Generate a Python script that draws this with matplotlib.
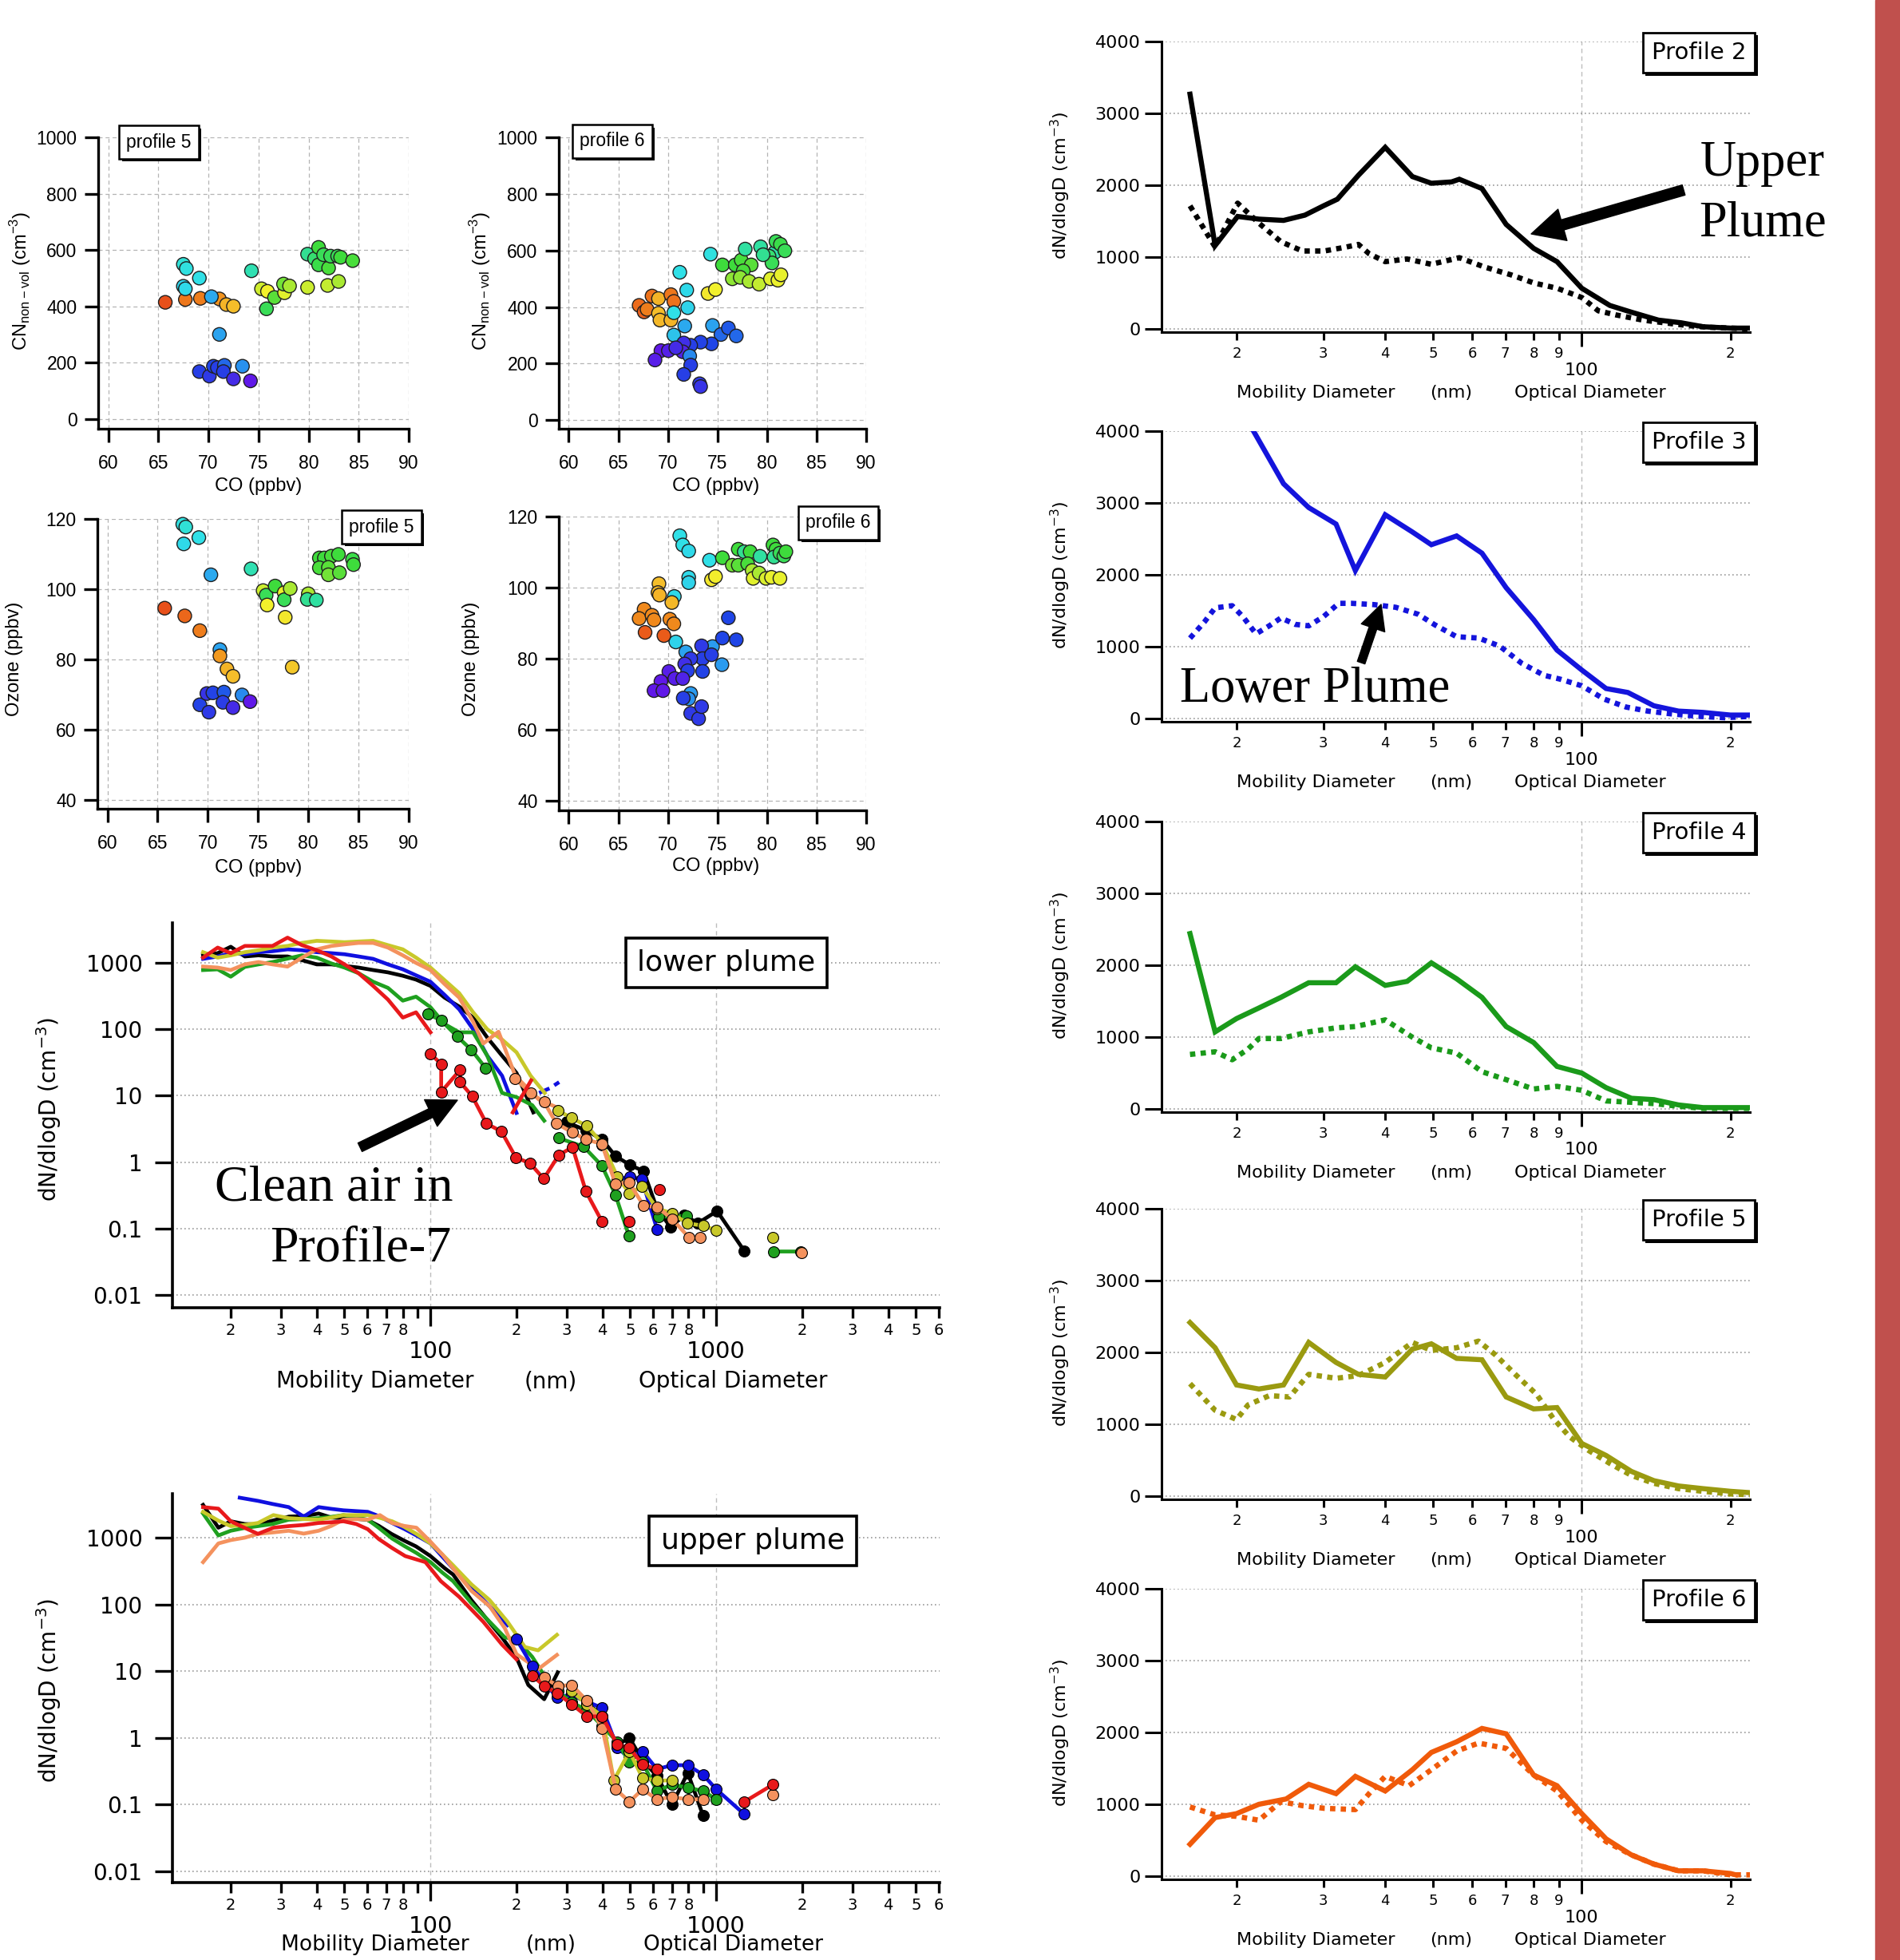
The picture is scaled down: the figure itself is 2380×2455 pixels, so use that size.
import numpy as np
import matplotlib
matplotlib.use('Agg')
import matplotlib.pyplot as plt
import matplotlib.ticker as mticker
import matplotlib.patheffects as pe
from matplotlib.colors import LinearSegmentedColormap
from matplotlib.patches import Rectangle

plt.rcParams['font.family'] = ['DejaVu Sans']

W, H = 2380, 2455

# ---------------- scatter data: CO (ppbv), value, colour index (0 orange .. 1 violet)
p5_cn_co = [65.7, 67.7, 69.2, 71.1, 71.8, 72.5,
            67.5, 67.8, 69.1, 67.5, 67.7, 70.3, 74.3,
            71.1, 69.1, 70.1, 70.5, 70.9, 71.6, 71.5, 72.5, 73.4, 74.2,
            75.3, 75.9, 75.8, 76.6, 77.6, 77.5, 78.1, 79.9, 81.9, 83.0,
            79.9, 80.6, 81.0, 81.0, 81.5, 82.0, 82.2, 82.9, 83.2, 84.4]
p5_cn = [414, 424, 428, 426, 406, 400,
         549, 534, 500, 471, 462, 434, 526,
         300, 168, 152, 187, 182, 190, 168, 142, 187, 135,
         462, 453, 391, 431, 448, 479, 472, 467, 474, 488,
         585, 569, 609, 547, 583, 536, 578, 578, 574, 562]
p5_cn_c = [0.0, 0.07, 0.08, 0.12, 0.18, 0.2,
           0.62, 0.63, 0.64, 0.66, 0.65, 0.72, 0.58,
           0.73, 0.86, 0.88, 0.84, 0.86, 0.8, 0.86, 0.93, 0.75, 1.0,
           0.36, 0.3, 0.5, 0.46, 0.33, 0.44, 0.4, 0.37, 0.38, 0.4,
           0.55, 0.52, 0.48, 0.49, 0.5, 0.47, 0.5, 0.5, 0.48, 0.47]

p5_o3_co = [71.2,
            65.7, 67.7, 69.2, 71.2, 71.9, 72.5,
            67.5, 67.8, 69.1, 67.6, 70.3, 74.3,
            69.2, 70.1, 69.9, 70.5, 71.6, 71.5, 72.5, 73.4, 74.2,
            75.5, 75.8, 75.9, 76.7, 77.6, 77.6, 78.2, 77.7, 78.4, 80.0, 79.9, 80.8,
            81.1, 81.6, 82.3, 83.0, 81.1, 82.0, 82.0, 83.1, 84.4, 84.5]
p5_o3 = [82.8,
         94.6, 92.4, 88.2, 81.0, 77.3, 75.2,
         118.5, 117.7, 114.7, 112.9, 104.1, 105.8,
         67.1, 65.0, 70.3, 70.5, 70.7, 67.8, 66.3, 69.9, 68.0,
         99.6, 98.3, 95.5, 100.9, 99.0, 97.0, 100.2, 92.0, 77.8, 98.7, 97.1, 96.9,
         108.9, 108.9, 109.4, 109.9, 106.1, 106.2, 104.1, 104.7, 108.5, 107.0]
p5_o3_c = [0.73,
           0.0, 0.04, 0.08, 0.13, 0.18, 0.2,
           0.63, 0.62, 0.64, 0.65, 0.72, 0.58,
           0.85, 0.88, 0.9, 0.85, 0.82, 0.87, 0.93, 0.76, 1.0,
           0.37, 0.5, 0.3, 0.48, 0.31, 0.5, 0.4, 0.28, 0.22, 0.4, 0.55, 0.56,
           0.48, 0.48, 0.47, 0.48, 0.47, 0.46, 0.44, 0.46, 0.49, 0.48]

p6_cn_co = [67.1, 67.6, 68.4, 67.9, 69.05, 69.05, 69.2, 70.3, 70.3, 70.6,
            71.2, 71.9, 72.0, 70.6, 71.7, 70.6, 74.3, 74.5,
            75.35, 76.1, 76.9, 74.4, 73.3, 72.3, 71.6, 71.5, 69.3, 68.7, 70.05, 70.8,
            72.2, 72.3, 71.6, 73.2, 73.3,
            74.05, 74.8, 75.5, 76.8, 77.4, 78.4, 77.6, 76.5, 77.3, 78.2, 79.2, 80.35,
            81.1, 81.4, 77.8, 79.35, 80.8, 80.9, 81.35, 81.8, 80.2, 80.5, 79.6]
p6_cn = [406, 383, 439, 392, 430, 378, 354, 354, 444, 420,
         523, 460, 398, 380, 333, 301, 587, 335,
         303, 326, 298, 270, 276, 265, 273, 242, 246, 213, 246, 256,
         227, 195, 162, 129, 119,
         448, 462, 549, 549, 566, 549, 528, 500, 505, 491, 481, 500,
         495, 514, 605, 613, 594, 632, 622, 599, 580, 556, 585]
p6_cn_c = [0.05, 0.03, 0.06, 0.08, 0.18, 0.2, 0.19, 0.18, 0.07, 0.06,
           0.64, 0.65, 0.66, 0.64, 0.72, 0.68, 0.63, 0.73,
           0.8, 0.82, 0.8, 0.84, 0.85, 0.86, 0.92, 0.96, 1.0, 0.98, 0.97, 0.93,
           0.76, 0.86, 0.86, 0.88, 0.9,
           0.28, 0.3, 0.48, 0.48, 0.47, 0.46, 0.47, 0.42, 0.42, 0.4, 0.38, 0.33,
           0.31, 0.32, 0.56, 0.56, 0.57, 0.5, 0.49, 0.5, 0.52, 0.5, 0.55]

p6_o3_co = [71.2, 71.5, 72.1, 74.2, 72.1, 72.1, 70.65, 70.8, 71.8, 74.5, 75.45, 72.3, 72.1,
            69.1, 69.0, 69.15, 70.4, 67.6, 67.1, 68.4, 68.6, 70.2, 70.6, 67.7, 69.6,
            76.1, 75.5, 76.9, 73.4, 73.5, 74.4, 72.3, 71.7, 72.0, 73.5, 70.1, 70.7,
            71.5, 69.3, 68.6, 69.5, 71.55, 72.3, 73.1, 73.4,
            74.4, 74.8, 75.5, 76.5, 77.1, 77.1, 77.7, 78.3, 78.05, 78.5, 78.6, 79.2,
            79.9, 80.45, 81.3, 79.3, 80.6, 80.9, 80.7, 81.3, 81.7, 81.9]
p6_o3 = [114.6, 112.0, 110.3, 107.7, 102.9, 101.4, 97.5, 84.7, 81.9, 83.4, 78.3, 70.2, 68.7,
         101.1, 98.6, 97.9, 95.8, 93.9, 91.3, 92.2, 90.9, 91.1, 89.8, 87.4, 86.5,
         91.5, 85.8, 85.3, 83.6, 80.0, 81.1, 80.0, 78.5, 76.6, 76.4, 76.4, 74.4,
         74.4, 73.6, 71.0, 71.0, 68.9, 64.6, 63.1, 66.5,
         102.2, 103.1, 108.4, 106.3, 106.3, 110.8, 110.1, 110.1, 106.7, 104.8, 102.6, 104.1,
         102.6, 102.9, 102.6, 108.8, 112.0, 110.8, 108.6, 109.7, 108.9, 110.1]
p6_o3_c = [0.64, 0.64, 0.65, 0.64, 0.65, 0.66, 0.65, 0.66, 0.73, 0.74, 0.74, 0.74, 0.75,
           0.2, 0.19, 0.18, 0.19, 0.1, 0.1, 0.1, 0.1, 0.1, 0.1, 0.02, 0.02,
           0.84, 0.84, 0.84, 0.88, 0.86, 0.86, 0.88, 0.92, 0.86, 0.85, 0.98, 0.98,
           0.96, 1.0, 1.0, 1.0, 0.86, 0.88, 0.88, 0.88,
           0.28, 0.29, 0.48, 0.44, 0.46, 0.48, 0.55, 0.48, 0.47, 0.4, 0.33, 0.4,
           0.34, 0.32, 0.32, 0.56, 0.48, 0.48, 0.55, 0.5, 0.5, 0.48]

# ---------------- size distributions, lower plume (SMPS lines, OPC lines+markers)
nan = np.nan
lo_black_sx = [16, 18, 20, 22.4, 25, 28, 31.6, 35.5, 40, 45, 50, 56, 63, 71, 80, 89, 100, 112, 126, 141, 158, 178, 200, 229]
lo_black_sy = [1300, 1400, 1750, 1250, 1300, 1250, 1250, 1100, 950, 950, 900, 850, 780, 720, 640, 560, 450, 300, 220, 150, 75, 40, 22, 5.6]
lo_black_ox = [300, 350, 398, 444, 500, 557, 620, 692, 773, 862, 1007, 1253]
lo_black_oy = [4.0, 3.0, 2.2, 1.23, 0.9, 0.73, 0.2, 0.105, 0.158, 0.12, 0.183, 0.046]

lo_blue_sx = [16, 18, 20, 22.4, 25, 28, 31.6, 35.5, 40, 45, 50, 56, 63, 71, 80, 89, 100, 112, 126, 141, 158, 178, 200]
lo_blue_sy = [1150, 1250, 1400, 1350, 1450, 1500, 1600, 1550, 1450, 1400, 1350, 1250, 1150, 950, 800, 650, 520, 330, 200, 100, 40, 20, 5.5]
lo_blue2_x = [240, 262, 282]
lo_blue2_y = [11, 13, 16]
lo_blue_ox = [398, 451, 500, 549, 621]
lo_blue_oy = [1.8, 0.55, 0.6, 0.55, 0.097]

lo_green_sx = [16, 18, 20, 22.4, 25, 28, 31.6, 35.5, 40, 45, 50, 56, 63, 71, 80, 89, 100, 112, 126, 141, 158, 178, 200, 227, 250]
lo_green_sy = [780, 800, 620, 870, 950, 1030, 1160, 1300, 1200, 980, 850, 700, 520, 420, 270, 310, 215, 120, 90, 90, 40, 11, 9.5, 7.2, 4.2]
lo_green_ox = [98, 109, 124, 139, 156, nan, 281, 344, 398, 444, 495, nan, 630, 787, nan, 1587, 1975]
lo_green_oy = [170, 136, 78, 49, 26, nan, 2.3, 1.7, 0.88, 0.32, 0.077, nan, 0.15, 0.155, nan, 0.045, 0.045]

lo_yellow_sx = [16, 18, 20, 22.4, 25, 28, 31.6, 35.5, 40, 45, 50, 56, 63, 71, 80, 89, 100, 112, 126, 141, 158, 178, 200, 224, 251]
lo_yellow_sy = [1450, 1200, 1300, 1450, 1550, 1700, 1800, 2000, 2150, 2100, 2050, 2100, 2150, 1850, 1600, 1200, 850, 550, 350, 180, 100, 70, 45, 20, 11]
lo_yellow_ox = [279, 312, 353, 399, 451, 497, 549, 620, 700, 790, 900, 1000, nan, 1580]
lo_yellow_oy = [6.0, 4.6, 3.5, 1.9, 0.6, 0.34, 0.43, 0.2, 0.17, 0.12, 0.11, 0.094, nan, 0.073]

lo_salmon_sx = [16, 18, 20, 22.4, 25, 28, 31.6, 35.5, 40, 45, 50, 56, 63, 71, 80, 89, 100, 112, 126, 141, 153, 173, 198, 239, 276]
lo_salmon_sy = [880, 850, 780, 950, 1030, 950, 880, 1200, 1600, 1800, 1900, 2000, 2000, 1700, 1300, 1000, 780, 480, 300, 130, 61, 92, 20, 8.8, 6.7]
lo_salmon_ox = [198, 224, 250, 276, 314, 350, 398, 444, 496, 557, 621, 700, 803, 880, nan, 1987]
lo_salmon_oy = [18, 11, 8, 3.8, 2.8, 2.2, 1.87, 0.47, 0.49, 0.22, 0.21, 0.14, 0.073, 0.073, nan, 0.043]

lo_red_sx = [16, 18, 20, 22.4, 25, 28, 31.6, 35.5, 40, 45, 50, 56, 63, 71, 80, 89, 100]
lo_red_sy = [1200, 1700, 1400, 1800, 1800, 1800, 2400, 1850, 1550, 1250, 950, 700, 450, 280, 150, 180, 90]
lo_red_ox = [100, 109, 109, 127, 127, 140, 157, 177, 199, 223, 249, 281, 314, 350, 398, nan, 495, nan, 634]
lo_red_oy = [42.7, 30, 11.4, 24.5, 16, 9.8, 3.8, 2.9, 1.17, 0.96, 0.56, 1.27, 1.68, 0.36, 0.128, nan, 0.128, nan, 0.39]
lo_red2_x = [194, 225]
lo_red2_y = [5.6, 17]

# ---------------- size distributions, upper plume
up_black_sx = [16, 18.1, 20, 22.4, 25, 28, 32, 36, 40.6, 45, 50, 56, 60, 66, 73, 81, 89, 100, 112, 120, 139, 157, 178, 200, 220, 250, 279]
up_black_sy = [3100, 1410, 1760, 1600, 1580, 1800, 2070, 2100, 2300, 2000, 1960, 1900, 1860, 1500, 1140, 900, 740, 530, 350, 280, 116, 61, 32, 16, 6.2, 3.8, 9.6]
up_black_ox = [312, 353, 399, 451, 497, 552, 620, 700, 795, 900]
up_black_oy = [4.5, 3.4, 2.1, 0.79, 1.0, 0.46, 0.27, 0.1, 0.30, 0.068]

up_blue_sx = [21.5, 24.9, 28, 31.9, 36, 40.6, 45, 49.6, 55, 60.3, 66, 73.4, 81, 89.3, 100, 110, 120, 139, 161, 186]
up_blue_sy = [3970, 3560, 3200, 2870, 2070, 2870, 2700, 2570, 2500, 2440, 2100, 1660, 1350, 1080, 820, 520, 345, 180, 94, 49]
up_blue_ox = [200, 227, 250, 277, 312, 353, 399, 451, 497, 552, 620, 700, 795, 900, 1000, 1253]
up_blue_oy = [30, 12, 7, 4.0, 4.5, 3.5, 2.8, 0.71, 0.5, 0.63, 0.34, 0.39, 0.39, 0.28, 0.17, 0.072]

up_green_sx = [16, 18.1, 20, 22.4, 24.9, 28, 31.9, 36, 40.6, 45, 49.6, 55, 60.3, 66, 73.4, 81, 89.3, 100, 110, 120, 139, 161, 182, 200, 227, 250]
up_green_sy = [2300, 1080, 1270, 1400, 1490, 1600, 1860, 1900, 1960, 2050, 2180, 2000, 1860, 1400, 970, 750, 590, 430, 300, 223, 105, 55, 32, 30, 16.4, 8.6]
up_green_ox = [279, 312, 353, 399, 451, 497, 552, 620, 700, 795, 900, 1000]
up_green_oy = [5, 3.4, 2.6, 1.5, 0.87, 0.43, 0.43, 0.16, 0.2, 0.18, 0.16, 0.12]

up_yellow_sx = [16, 18.1, 20, 22.4, 24.9, 28.2, 31.9, 36, 40.6, 45, 49.6, 55, 60.3, 66, 73.4, 81, 89.3, 100, 110, 120, 139, 161, 186, 214, 238, 277]
up_yellow_sy = [2440, 1800, 1490, 1550, 1660, 2180, 1960, 1900, 1860, 2000, 2180, 2180, 2180, 2000, 1760, 1450, 1140, 820, 560, 385, 200, 116, 55, 23, 20.5, 35]
up_yellow_ox = [312, 353, 399, 438, 497, 552, 620, 700]
up_yellow_oy = [5, 3.2, 2.1, 0.23, 0.63, 0.25, 0.23, 0.23]

up_salmon_sx = [16, 18.1, 20, 22.4, 24.9, 28.2, 31.9, 36, 40.6, 45, 49.6, 55, 60.3, 66.5, 73.4, 81, 89.3, 100, 110, 120, 139, 161, 182, 200, 238, 277]
up_salmon_sy = [430, 820, 920, 1000, 1140, 1200, 1270, 1150, 1270, 1500, 1860, 1900, 1860, 2180, 1660, 1500, 1410, 870, 560, 345, 160, 94, 44, 18, 10.7, 17.5]
up_salmon_ox = [250, 279, 312, 353, 399, 445, 497, 552, 620, 700, 795, 900, nan, 1580]
up_salmon_oy = [8, 6, 6.2, 3.6, 1.4, 0.17, 0.11, 0.17, 0.12, 0.13, 0.12, 0.12, nan, 0.14]

up_red_sx = [16, 18.1, 20, 22.4, 24.9, 28.2, 31.9, 36, 40.6, 45, 49.6, 55, 60.3, 66, 73.4, 81.6, 96, 108.7, 126, 153, 178, 200]
up_red_sy = [2870, 2720, 1760, 1400, 1140, 1410, 1490, 1550, 1660, 1700, 1760, 1600, 1340, 950, 700, 530, 430, 223, 130, 55, 25, 15]
up_red_ox = [227, 250, 277, 312, 353, 399, 451, 497, 552, 620, nan, 1253, 1580]
up_red_oy = [8.6, 6, 4.7, 3.2, 2.1, 2.1, 0.79, 0.71, 0.4, 0.34, nan, 0.11, 0.2]

# ---------------- profiles 2-6 (linear dN/dlogD), solid = upper plume, dotted = lower plume
p2_sx = [16.1, 18.1, 20.1, 22.2, 24.9, 27.5, 30, 32, 35.3, 40, 45.4, 49.6, 54.5, 56.5, 62.8, 70.3, 79.9, 89.1, 100, 114, 126, 143, 159, 176, 200, 219]
p2_sy = [3267, 1160, 1565, 1528, 1510, 1583, 1713, 1805, 2138, 2527, 2120, 2027, 2046, 2083, 1953, 1454, 1121, 936, 566, 326, 233, 122, 85, 30, 11, 11]
p2_dx = [16.1, 18.1, 20.1, 22.2, 24.6, 27.2, 30.1, 33.4, 35.3, 37.1, 40, 44.3, 49.6, 56.5, 63.5, 72, 79.9, 89.1, 100, 108, 117, 133, 147, 163, 181, 200, 219]
p2_dy = [1713, 1140, 1750, 1472, 1213, 1084, 1084, 1140, 1176, 1047, 936, 973, 899, 991, 862, 751, 640, 566, 437, 252, 196, 122, 85, 48, 22, 11, 0]

p3_sx = [21.7, 24.9, 28.0, 31.8, 34.8, 40, 45.4, 49.6, 55.8, 62.8, 70.3, 79.9, 89.1, 100, 112, 124, 140, 157, 176, 200, 219]
p3_sy = [3988, 3268, 2936, 2707, 2060, 2836, 2596, 2419, 2541, 2301, 1820, 1376, 952, 675, 417, 362, 177, 103, 85, 48, 48]
p3_dx = [16.1, 17.2, 18.1, 19.6, 20.6, 21.9, 23.3, 24.6, 26.3, 28, 30, 32.2, 34.2, 38, 42, 46.6, 50.4, 55.8, 61.8, 68.2, 75.6, 83.8, 90.5, 100, 111, 123, 136, 151, 172, 195, 219]
p3_dy = [1118, 1340, 1540, 1570, 1418, 1178, 1290, 1400, 1310, 1290, 1418, 1603, 1603, 1585, 1548, 1452, 1304, 1138, 1120, 1008, 768, 602, 547, 455, 270, 159, 103, 66, 30, 11, 30]

p4_sx = [16.1, 18.1, 20, 22.2, 24.6, 28, 31.8, 34.8, 40, 44.3, 49.6, 55.8, 62.8, 70.3, 79.9, 89.1, 100, 112, 126, 140, 157, 176, 200, 219]
p4_sy = [2440, 1072, 1257, 1405, 1553, 1756, 1756, 1978, 1719, 1775, 2033, 1811, 1553, 1146, 924, 591, 499, 296, 148, 129, 55, 18, 18, 18]
p4_dx = [16.1, 18.1, 19.6, 21.1, 22.2, 24.6, 28, 31.8, 34.8, 40, 45.4, 49.6, 55.8, 62.8, 70.3, 79.9, 89.1, 100, 112, 126, 140, 157, 176, 219]
p4_dy = [758, 795, 684, 832, 980, 980, 1072, 1128, 1146, 1239, 998, 850, 776, 518, 407, 277, 314, 259, 111, 92, 74, 37, 7, 7]

p5_sx = [16.1, 18.1, 20, 22.2, 24.9, 28, 31.8, 35.3, 40, 45.4, 49.6, 55.8, 62.8, 70.3, 79.9, 89.1, 100, 112, 126, 140, 157, 176, 200, 219]
p5_sy = [2416, 2065, 1547, 1491, 1547, 2139, 1861, 1695, 1658, 2046, 2120, 1917, 1898, 1380, 1214, 1232, 733, 566, 344, 215, 141, 104, 67, 48]
p5_dx = [16.1, 18.1, 20, 21.1, 23.3, 25.6, 28, 31.8, 35.3, 40, 45.4, 49.6, 55.8, 61.8, 66.7, 73.8, 81, 87.5, 94.5, 103, 114, 126, 140, 157, 176, 200, 219]
p5_dy = [1565, 1195, 1066, 1269, 1399, 1380, 1695, 1640, 1677, 1861, 2139, 2028, 2065, 2157, 1972, 1677, 1417, 1084, 825, 640, 455, 289, 178, 104, 67, 30, 19]

p6_sx = [16.1, 18.1, 20, 22.2, 25.2, 28, 31.8, 34.8, 40, 45.4, 49.6, 55.8, 62.8, 70.3, 79.9, 89.1, 100, 112, 126, 140, 157, 176, 200, 205]
p6_sy = [444, 815, 870, 1000, 1074, 1278, 1148, 1389, 1185, 1481, 1722, 1870, 2056, 1981, 1407, 1259, 870, 519, 296, 167, 74, 74, 37, 18]
p6_dx = [16.1, 18.1, 20, 22.2, 24.6, 27.2, 30.1, 34.8, 37.1, 40, 44.7, 49.6, 55.8, 61.8, 70.3, 79.9, 89.1, 100, 112, 126, 140, 157, 176, 200, 219]
p6_dy = [963, 852, 833, 778, 1037, 981, 944, 926, 1148, 1389, 1259, 1481, 1741, 1852, 1778, 1407, 1185, 778, 481, 296, 167, 74, 74, 18, 18]

# ---------------- helpers
def rect(l, t, r, b):
    return [l / W, 1 - b / H, (r - l) / W, (b - t) / H]

cmap = LinearSegmentedColormap.from_list('igor', list(zip(
    [0, .1, .2, .3, .38, .48, .56, .64, .74, .84, 1.0],
    ['#E8501A', '#F08A1C', '#F5BE2A', '#F2F22C', '#C4EC30', '#3CDC3C',
     '#30E0A0', '#30E0E8', '#2A9CF0', '#1E46E6', '#6018E8'])))

def igor_spines(ax, lw):
    for s in ['top', 'right']:
        ax.spines[s].set_visible(False)
    for s in ['left', 'bottom']:
        ax.spines[s].set_linewidth(lw)

def minor_digits(skip9):
    def f(v, pos):
        d = int(round(v / 10 ** np.floor(np.log10(v) + 1e-9)))
        if skip9 and d == 9:
            return ''
        return str(d)
    return mticker.FuncFormatter(f)

fig = plt.figure(figsize=(W / 100, H / 100), dpi=100)
fig.patch.set_facecolor('white')

# ---------------- scatter panels
def scatter_panel(box, ylim, yticks, co, val, col):
    ax = fig.add_axes(rect(*box))
    ax.scatter(co, val, c=col, cmap=cmap, vmin=0, vmax=1, s=150,
               edgecolors='#202020', linewidths=1.0, zorder=3, clip_on=False)
    ax.set_xlim(59, 90)
    ax.set_ylim(*ylim)
    ax.set_xticks([60, 65, 70, 75, 80, 85, 90])
    ax.set_yticks(yticks)
    igor_spines(ax, 2.4)
    ax.tick_params(length=12, width=2.4, labelsize=16.5)
    ax.tick_params(axis='x', pad=11)
    ax.tick_params(axis='y', pad=7)
    ax.grid(True, color='#b4b4b4', lw=0.9, ls=(0, (4, 3)))
    ax.set_axisbelow(True)
    for t in ax.get_xticklabels() + ax.get_yticklabels():
        t.set_fontfamily('Liberation Sans')
    return ax

scatter_panel((123, 172, 512, 537), (-35, 1000), [0, 200, 400, 600, 800, 1000], p5_cn_co, p5_cn, p5_cn_c)
scatter_panel((700, 172, 1085, 537), (-30, 1000), [0, 200, 400, 600, 800, 1000], p6_cn_co, p6_cn, p6_cn_c)
scatter_panel((122, 650, 512, 1013), (37.5, 120), [40, 60, 80, 100, 120], p5_o3_co, p5_o3, p5_o3_c)
scatter_panel((700, 647, 1085, 1015), (37.3, 120), [40, 60, 80, 100, 120], p6_o3_co, p6_o3, p6_o3_c)

# ---------------- log-log size distribution panels
def log_panel(box, ylim):
    ax = fig.add_axes(rect(*box))
    ax.set_xscale('log')
    ax.set_yscale('log')
    ax.set_xlim(12.5, 6050)
    ax.set_ylim(*ylim)
    ax.xaxis.set_major_locator(mticker.FixedLocator([100, 1000]))
    ax.xaxis.set_major_formatter(mticker.FixedFormatter(['100', '1000']))
    ax.xaxis.set_minor_locator(mticker.LogLocator(base=10, subs=np.arange(2, 10), numticks=50))
    ax.xaxis.set_minor_formatter(minor_digits(True))
    ax.yaxis.set_major_locator(mticker.FixedLocator([0.01, 0.1, 1, 10, 100, 1000]))
    ax.yaxis.set_major_formatter(mticker.FixedFormatter(['0.01', '0.1', '1', '10', '100', '1000']))
    ax.yaxis.set_minor_locator(mticker.NullLocator())
    igor_spines(ax, 2.6)
    ax.tick_params(axis='x', which='major', length=16.5, width=2.4, labelsize=21, pad=13)
    ax.tick_params(axis='x', which='minor', length=9.4, width=2.4, labelsize=14, pad=4)
    ax.tick_params(axis='y', which='major', length=16, width=2.4, labelsize=20, pad=11)
    ax.grid(axis='y', which='major', color='#9a9a9a', lw=1.2, ls=(0, (1, 2)))
    ax.grid(axis='x', which='major', color='#bdbdbd', lw=1.0, ls=(0, (4, 3)))
    ax.set_axisbelow(True)
    return ax

def series(ax, sx, sy, ox, oy, color):
    ax.plot(sx, sy, color=color, lw=3.4, zorder=3)
    ax.plot(ox, oy, color=color, lw=3.4, marker='o', ms=10, mec='k', mew=0.8, zorder=4)

BLK, BLU, GRN, YEL, SAL, RED = 'black', '#1010E0', '#1FA01F', '#C8C82A', '#F4925E', '#E8191B'

ax_lo = log_panel((216, 1156, 1177, 1638), (0.0064, 4000))
series(ax_lo, lo_black_sx, lo_black_sy, lo_black_ox, lo_black_oy, BLK)
series(ax_lo, lo_blue_sx, lo_blue_sy, lo_blue_ox, lo_blue_oy, BLU)
ax_lo.plot(lo_blue2_x, lo_blue2_y, color=BLU, lw=3.4, ls=(0, (3, 1.5)), zorder=3)
series(ax_lo, lo_green_sx, lo_green_sy, lo_green_ox, lo_green_oy, GRN)
series(ax_lo, lo_yellow_sx, lo_yellow_sy, lo_yellow_ox, lo_yellow_oy, YEL)
series(ax_lo, lo_salmon_sx, lo_salmon_sy, lo_salmon_ox, lo_salmon_oy, SAL)
series(ax_lo, lo_red_sx, lo_red_sy, lo_red_ox, lo_red_oy, RED)
ax_lo.plot(lo_red2_x, lo_red2_y, color=RED, lw=3.4, zorder=5)

ax_up = log_panel((216, 1871, 1177, 2358), (0.0068, 4550))
series(ax_up, up_black_sx, up_black_sy, up_black_ox, up_black_oy, BLK)
series(ax_up, up_blue_sx, up_blue_sy, up_blue_ox, up_blue_oy, BLU)
series(ax_up, up_green_sx, up_green_sy, up_green_ox, up_green_oy, GRN)
series(ax_up, up_yellow_sx, up_yellow_sy, up_yellow_ox, up_yellow_oy, YEL)
series(ax_up, up_salmon_sx, up_salmon_sy, up_salmon_ox, up_salmon_oy, SAL)
series(ax_up, up_red_sx, up_red_sy, up_red_ox, up_red_oy, RED)

# ---------------- profiles 2-6
def profile_panel(top, zero, sx, sy, dx, dy, color):
    bottom = zero + 4
    ax = fig.add_axes(rect(1455, top, 2192, bottom))
    ax.plot(sx, sy, color=color, lw=4.6, solid_joinstyle='miter', zorder=3)
    ax.plot(dx, dy, color=color, lw=4.8, ls=(0, (1, 1)), zorder=3)
    ax.set_xscale('log')
    ax.set_xlim(14.1, 219)
    ax.set_ylim(-45, 4000)
    ax.xaxis.set_major_locator(mticker.FixedLocator([100]))
    ax.xaxis.set_major_formatter(mticker.FixedFormatter(['100']))
    ax.xaxis.set_minor_locator(mticker.LogLocator(base=10, subs=np.arange(2, 10), numticks=50))
    ax.xaxis.set_minor_formatter(minor_digits(False))
    ax.set_yticks([0, 1000, 2000, 3000, 4000])
    igor_spines(ax, 2.2)
    ax.tick_params(axis='x', which='major', length=13, width=2.2, labelsize=16, pad=14)
    ax.tick_params(axis='x', which='minor', length=7, width=2.2, labelsize=13, pad=6)
    ax.tick_params(axis='y', length=15, width=2.2, labelsize=16, pad=4)
    ax.grid(axis='y', color='#9a9a9a', lw=1.2, ls=(0, (1, 2)))
    ax.grid(axis='x', which='major', color='#bdbdbd', lw=1.0, ls=(0, (4, 3)))
    ax.set_axisbelow(True)
    return ax

prof_tops = [52, 540, 1029, 1514, 1990]
prof_zeros = [412, 900, 1389, 1874, 2350]
profile_panel(prof_tops[0], prof_zeros[0], p2_sx, p2_sy, p2_dx, p2_dy, 'black')
profile_panel(prof_tops[1], prof_zeros[1], p3_sx, p3_sy, p3_dx, p3_dy, '#1414DC')
profile_panel(prof_tops[2], prof_zeros[2], p4_sx, p4_sy, p4_dx, p4_dy, '#1A9A1A')
profile_panel(prof_tops[3], prof_zeros[3], p5_sx, p5_sy, p5_dx, p5_dy, '#9A9A10')
profile_panel(prof_tops[4], prof_zeros[4], p6_sx, p6_sy, p6_dx, p6_dy, '#F05A0A')

# ---------------- overlay for labels, boxes and annotations (pixel coordinates)
ov = fig.add_axes([0, 0, 1, 1], zorder=20)
ov.set_xlim(0, W)
ov.set_ylim(H, 0)
ov.axis('off')
ov.patch.set_visible(False)

LS = 'Liberation Sans'
cn_lab = r'CN$_{\mathregular{non-vol}}$ (cm$^{\mathregular{-3}}$)'
for x, y in [(26, 352), (602, 352)]:
    ov.text(x, y, cn_lab, rotation=90, ha='center', va='center', fontsize=17, family=LS)
for x, y in [(18, 825), (590, 825)]:
    ov.text(x, y, 'Ozone (ppbv)', rotation=90, ha='center', va='center', fontsize=17, family=LS)
for x, y in [(324, 609), (897, 609), (324, 1087), (897, 1085)]:
    ov.text(x, y, 'CO (ppbv)', ha='center', va='center', fontsize=17, family=LS)

def shadow_box(x, y, s, size, family, pad, lw, shadow):
    t = ov.text(x, y, s, ha='center', va='center', fontsize=size, family=family,
                bbox=dict(boxstyle='square,pad=%s' % pad, fc='white', ec='black', lw=lw))
    if shadow:
        t.get_bbox_patch().set_path_effects(
            [pe.withSimplePatchShadow(offset=(2.5, -2.5), shadow_rgbFace='black', alpha=1.0)])

shadow_box(199, 178, 'profile 5', 16.5, LS, 0.4, 1.8, True)
shadow_box(767, 177, 'profile 6', 16.5, LS, 0.4, 1.8, True)
shadow_box(478, 660, 'profile 5', 16.5, LS, 0.4, 1.8, True)
shadow_box(1050, 655, 'profile 6', 16.5, LS, 0.4, 1.8, True)

dn_lab = r'dN/dlogD (cm$^{\mathregular{-3}}$)'
ov.text(61, 1389, dn_lab, rotation=90, ha='center', va='center', fontsize=20)
ov.text(61, 2117, dn_lab, rotation=90, ha='center', va='center', fontsize=20)
for y, fs in [(1730, 20), (2436, 19)]:
    ov.text(470, y, 'Mobility Diameter', ha='center', va='center', fontsize=fs)
    ov.text(690, y, '(nm)', ha='center', va='center', fontsize=fs)
    ov.text(918, y, 'Optical Diameter', ha='center', va='center', fontsize=fs)
shadow_box(910, 1206, 'lower plume', 26, 'DejaVu Sans', 0.4, 2.6, False)
shadow_box(943, 1930, 'upper plume', 26, 'DejaVu Sans', 0.4, 2.6, False)

for i, (top, zero) in enumerate(zip(prof_tops, prof_zeros)):
    ov.text(1328, (top + zero) / 2, dn_lab, rotation=90, ha='center', va='center', fontsize=16)
    yl = zero + 80
    ov.text(1648, yl, 'Mobility Diameter', ha='center', va='center', fontsize=16)
    ov.text(1818, yl, '(nm)', ha='center', va='center', fontsize=16)
    ov.text(1992, yl, 'Optical Diameter', ha='center', va='center', fontsize=16)
    shadow_box(2128, top + 14, 'Profile %d' % (i + 2), 21, 'DejaVu Sans', 0.38, 2.0, True)

SERIF = 'Liberation Serif'
ov.text(2208, 205, 'Upper', ha='center', va='center', fontsize=45, family=SERIF)
ov.text(2208, 280, 'Plume', ha='center', va='center', fontsize=45, family=SERIF)
ov.text(1647, 864, 'Lower Plume', ha='center', va='center', fontsize=45, family=SERIF)
ov.text(418, 1489, 'Clean air in', ha='center', va='center', fontsize=46, family=SERIF)
ov.text(452, 1564, 'Profile-7', ha='center', va='center', fontsize=46, family=SERIF)

def arrow(tail, tip, scale):
    ov.annotate('', xy=tip, xytext=tail,
                arrowprops=dict(arrowstyle='simple,head_length=1.4,head_width=1.4,tail_width=0.45',
                                mutation_scale=scale, fc='black', ec='black',
                                shrinkA=0, shrinkB=0))

arrow((2109, 238), (1918, 293), 21)
arrow((1705, 830), (1730, 757), 16)
arrow((451, 1437), (573, 1378), 19)

ov.add_patch(Rectangle((2349, 0), 31, H, color='#C0504D', clip_on=False))

fig.savefig('out.png', dpi=100)
